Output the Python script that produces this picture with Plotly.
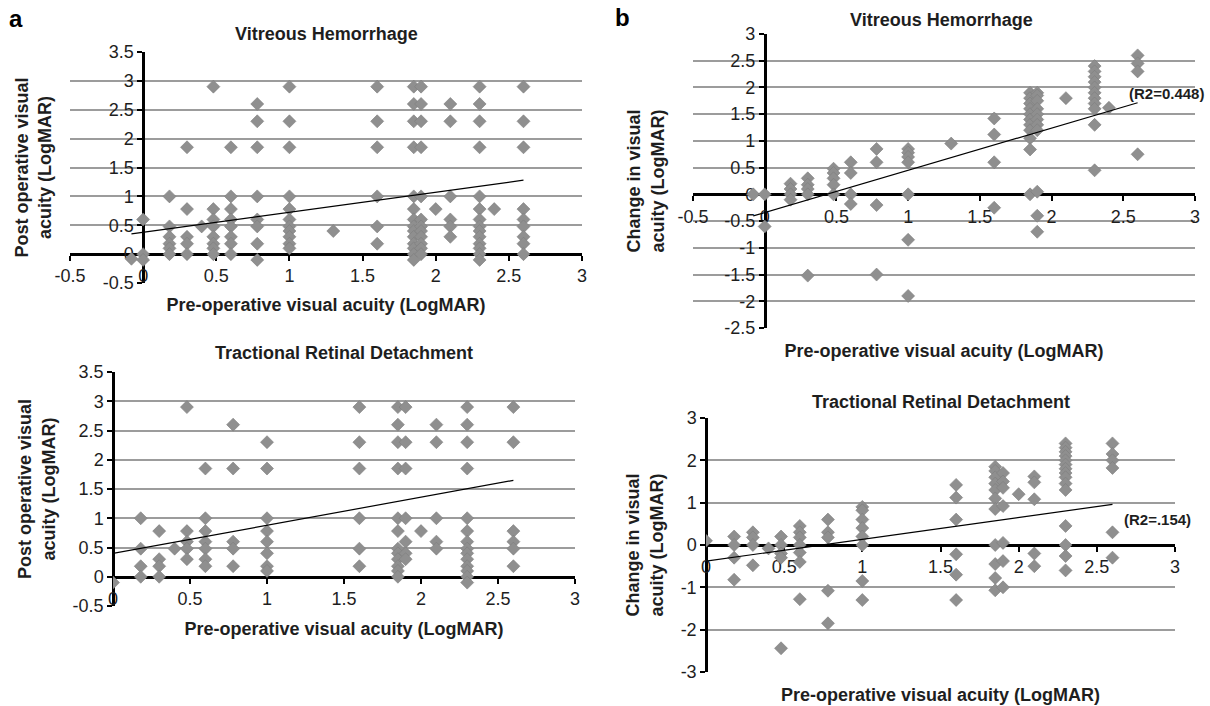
import plotly.graph_objects as go

W, H = 1210, 706

# ---------------- data (LogMAR) ----------------
# (a) upper panel: Vitreous Hemorrhage - post-operative vs pre-operative VA
vh_post_pre_levels = [-0.08, 0, 0.18, 0.3, 0.4, 0.48, 0.6, 0.78, 1.0, 1.3, 1.6,
                      1.85, 1.9, 2.0, 2.1, 2.3, 2.4, 2.6]
vh_post_values = [
    [-0.08],
    [0.6, 0, -0.1],
    [1.0, 0.48, 0.3, 0.18, 0.1, 0],
    [1.85, 0.78, 0.3, 0.18, 0],
    [0.48],
    [2.9, 0.78, 0.6, 0.48, 0.3, 0.18, 0.1, 0],
    [1.85, 1.0, 0.78, 0.6, 0.48, 0.3, 0.18, 0],
    [2.6, 2.3, 1.85, 1.0, 0.6, 0.48, 0.18, -0.1],
    [2.9, 2.3, 1.85, 1.0, 0.78, 0.6, 0.48, 0.4, 0.3, 0.18, 0.1],
    [0.4],
    [2.9, 2.3, 1.85, 1.0, 0.48, 0.18],
    [2.9, 2.6, 2.3, 1.85, 1.0, 0.78, 0.6, 0.48, 0.4, 0.3, 0.18, 0.1, 0, -0.1],
    [2.9, 2.6, 2.3, 1.85, 1.0, 0.6, 0.48, 0.4, 0.3, 0.18, 0.1, 0],
    [0.78],
    [2.6, 2.3, 1.0, 0.6, 0.48, 0.3],
    [2.9, 2.6, 2.3, 1.85, 1.0, 0.78, 0.6, 0.48, 0.4, 0.3, 0.18, 0.1, 0, -0.1],
    [0.78],
    [2.9, 2.3, 1.85, 0.78, 0.6, 0.48, 0.3, 0.18, 0],
]
vh_post_intercept, vh_post_slope = 0.378, 0.347

# (a) lower panel: Tractional Retinal Detachment - post-operative vs pre-operative VA
trd_post_pre_levels = [0, 0.18, 0.3, 0.4, 0.48, 0.6, 0.78, 1.0, 1.6, 1.85, 1.9,
                       2.0, 2.1, 2.3, 2.6]
trd_post_values = [
    [-0.1],
    [1.0, 0.48, 0.18, 0],
    [0.78, 0.3, 0.18, 0],
    [0.48],
    [2.9, 0.78, 0.6, 0.48, 0.3],
    [1.85, 1.0, 0.78, 0.6, 0.48, 0.3, 0.18],
    [2.6, 1.85, 0.6, 0.48, 0.18],
    [2.3, 1.85, 1.0, 0.78, 0.6, 0.4, 0.18, 0.1],
    [2.9, 2.3, 1.85, 1.0, 0.48, 0.18],
    [2.9, 2.6, 2.3, 1.85, 1.0, 0.78, 0.48, 0.4, 0.3, 0.18, 0.1, 0],
    [2.9, 2.3, 1.85, 1.0, 0.6, 0.4, 0.3],
    [0.78],
    [2.6, 2.3, 1.0, 0.6, 0.48],
    [2.9, 2.6, 2.3, 1.85, 1.0, 0.78, 0.6, 0.48, 0.4, 0.3, 0.18, 0.1, 0, -0.1],
    [2.9, 2.3, 0.78, 0.6, 0.48, 0.18],
]
trd_post_intercept, trd_post_slope = 0.40, 0.48

# (b) upper panel: Vitreous Hemorrhage - change in VA vs pre-operative VA
vh_chg_pre_levels = [-0.08, 0, 0.18, 0.3, 0.48, 0.6, 0.78, 1.0, 1.3, 1.6, 1.85,
                     1.9, 2.1, 2.3, 2.4, 2.6]
vh_chg_values = [
    [0],
    [0, -0.6],
    [0.2, 0.1, 0, -0.1],
    [0.3, 0.18, 0.1, 0, -1.52],
    [0.48, 0.4, 0.3, 0.18, 0],
    [0.6, 0.4, 0, -0.18],
    [0.85, 0.6, -0.2, -1.5],
    [0.85, 0.78, 0.7, 0.6, 0, -0.85, -1.9],
    [0.95],
    [1.42, 1.12, 0.6, -0.25],
    [1.9, 1.8, 1.7, 1.6, 1.5, 1.4, 1.3, 1.2, 1.05, 0.84, 0],
    [1.9, 1.85, 1.75, 1.6, 1.5, 1.4, 1.3, 1.2, 0.05, -0.4, -0.7],
    [1.8],
    [2.4, 2.3, 2.2, 2.1, 2.0, 1.9, 1.8, 1.7, 1.6, 1.3, 0.45],
    [1.62],
    [2.6, 2.45, 2.3, 0.75],
]
vh_chg_intercept, vh_chg_slope = -0.34, 0.79
vh_chg_r2_label = "(R2=0.448)"

# (b) lower panel: Tractional Retinal Detachment - change in VA vs pre-operative VA
trd_chg_pre_levels = [0, 0.18, 0.3, 0.4, 0.48, 0.6, 0.78, 1.0, 1.6, 1.85, 1.9,
                      2.0, 2.1, 2.3, 2.6]
trd_chg_values = [
    [0.1],
    [0.2, 0, -0.3, -0.82],
    [0.3, 0.18, 0, -0.48],
    [-0.08],
    [0.2, 0, -0.2, -0.3, -2.44],
    [0.45, 0.3, 0.18, 0, -0.18, -0.4, -1.28],
    [0.6, 0.3, 0.18, -1.08, -1.85],
    [0.9, 0.82, 0.6, 0.4, 0.2, 0, -0.85, -1.3],
    [1.42, 1.12, 0.6, -0.22, -0.7, -1.3],
    [1.85, 1.75, 1.6, 1.45, 1.3, 1.1, 0.85, 0, -0.45, -0.78, -1.07],
    [1.7, 1.5, 1.35, 0.92, 0.05, -0.38, -1.0],
    [1.2],
    [1.62, 1.48, 1.08, -0.2, -0.5],
    [2.4, 2.3, 2.2, 2.1, 2.0, 1.9, 1.8, 1.7, 1.6, 1.45, 1.3, 0.45, 0, -0.26, -0.6],
    [2.4, 2.15, 2.0, 1.82, 0.3, -0.3],
]
trd_chg_intercept, trd_chg_slope = -0.38, 0.515
trd_chg_r2_label = "(R2=.154)"

# tick values / labels
x_ticks_neg = [-0.5, 0, 0.5, 1, 1.5, 2, 2.5, 3]
x_ticks_neg_text = ["-0.5", "0", "0.5", "1", "1.5", "2", "2.5", "3"]
x_ticks_pos = [0, 0.5, 1, 1.5, 2, 2.5, 3]
x_ticks_pos_text = ["0", "0.5", "1", "1.5", "2", "2.5", "3"]
y_ticks_post = [-0.5, 0, 0.5, 1, 1.5, 2, 2.5, 3, 3.5]
y_ticks_post_text = ["-0.5", "0", "0.5", "1", "1.5", "2", "2.5", "3", "3.5"]
y_ticks_vh_chg = [-2.5, -2, -1.5, -1, -0.5, 0, 0.5, 1, 1.5, 2, 2.5, 3]
y_ticks_vh_chg_text = ["-2.5", "-2", "-1.5", "-1", "-0.5", "0", "0.5", "1",
                       "1.5", "2", "2.5", "3"]
y_ticks_trd_chg = [-3, -2, -1, 0, 1, 2, 3]
y_ticks_trd_chg_text = ["-3", "-2", "-1", "0", "1", "2", "3"]

titles = ["Vitreous Hemorrhage", "Tractional Retinal Detachment",
          "Vitreous Hemorrhage", "Tractional Retinal Detachment"]
x_title = "Pre-operative visual acuity (LogMAR)"
y_title_post = "Post operative visual<br>acuity (LogMAR)"
y_title_chg = "Change in visual<br>acuity (LogMAR)"

# ---------------- styling ----------------
FONT = "Arial, 'Liberation Sans', Helvetica, sans-serif"
MARKER = dict(symbol="diamond", size=10, color="#8f8f8f",
              line=dict(color="#7e7e7e", width=0.6))
GRID = "#9c9c9c"
TXT = "#1e1e1e"
TICK_FS = 18
TITLE_FS = 18
AXTITLE_FS = 18


def flatten(levels, groups):
    xs, ys = [], []
    for xv, g in zip(levels, groups):
        for yv in g:
            xs.append(xv)
            ys.append(yv)
    return xs, ys


def frac_x(p):
    return p / W


def frac_y(p):
    return 1 - p / H


def zero_pos(domain, rng):
    return domain[0] + (0 - rng[0]) / (rng[1] - rng[0]) * (domain[1] - domain[0])


panels = [
    dict(levels=vh_post_pre_levels, values=vh_post_values,
         icpt=vh_post_intercept, slope=vh_post_slope,
         xpx=(70, 582), ypx=(52, 283), xr=[-0.5, 3], yr=[-0.5, 3.5],
         xt=x_ticks_neg, xtt=x_ticks_neg_text, yt=y_ticks_post, ytt=y_ticks_post_text,
         ytitle=y_title_post, ystand=45, xstand=12, title=titles[0], tpx=(326, 34)),
    dict(levels=trd_post_pre_levels, values=trd_post_values,
         icpt=trd_post_intercept, slope=trd_post_slope,
         xpx=(113, 575), ypx=(372, 606), xr=[0, 3], yr=[-0.5, 3.5],
         xt=x_ticks_pos, xtt=x_ticks_pos_text, yt=y_ticks_post, ytt=y_ticks_post_text,
         ytitle=y_title_post, ystand=11, xstand=14, title=titles[1], tpx=(344, 353)),
    dict(levels=vh_chg_pre_levels, values=vh_chg_values,
         icpt=vh_chg_intercept, slope=vh_chg_slope,
         xpx=(693, 1195), ypx=(34, 328), xr=[-0.5, 3], yr=[-2.5, 3],
         xt=x_ticks_neg, xtt=x_ticks_neg_text, yt=y_ticks_vh_chg, ytt=y_ticks_vh_chg_text,
         ytitle=y_title_chg, ystand=54, xstand=118, title=titles[2], tpx=(941, 20),
         r2=vh_chg_r2_label, r2pos=(2.80, 1.89)),
    dict(levels=trd_chg_pre_levels, values=trd_chg_values,
         icpt=trd_chg_intercept, slope=trd_chg_slope,
         xpx=(706, 1175), ypx=(418, 672), xr=[0, 3], yr=[-3, 3],
         xt=x_ticks_pos, xtt=x_ticks_pos_text, yt=y_ticks_trd_chg, ytt=y_ticks_trd_chg_text,
         ytitle=y_title_chg, ystand=11, xstand=112, title=titles[3], tpx=(941, 402),
         r2=trd_chg_r2_label, r2pos=(2.89, 0.61)),
]

fig = go.Figure()
layout = dict(
    width=W, height=H, margin=dict(l=0, r=0, t=0, b=0, pad=0, autoexpand=False),
    paper_bgcolor="white", plot_bgcolor="white", showlegend=False,
    font=dict(family=FONT, color=TXT, size=14),
)
annotations = []

for i, p in enumerate(panels, start=1):
    xs, ys = flatten(p["levels"], p["values"])
    xid = "x" if i == 1 else f"x{i}"
    yid = "y" if i == 1 else f"y{i}"
    xname = "xaxis" if i == 1 else f"xaxis{i}"
    yname = "yaxis" if i == 1 else f"yaxis{i}"

    fig.add_trace(go.Scatter(x=xs, y=ys, mode="markers", marker=MARKER,
                             xaxis=xid, yaxis=yid, hoverinfo="x+y"))
    x0, x1 = min(xs), max(xs)
    fig.add_trace(go.Scatter(x=[x0, x1],
                             y=[p["icpt"] + p["slope"] * x0, p["icpt"] + p["slope"] * x1],
                             mode="lines", line=dict(color="black", width=1.2),
                             xaxis=xid, yaxis=yid, hoverinfo="skip"))

    xdom = [frac_x(p["xpx"][0]), frac_x(p["xpx"][1])]
    ydom = [frac_y(p["ypx"][1]), frac_y(p["ypx"][0])]

    layout[xname] = dict(
        domain=xdom, range=p["xr"], anchor="free", automargin=False,
        position=zero_pos(ydom, p["yr"]),
        tickvals=p["xt"], ticktext=p["xtt"],
        showgrid=False, zeroline=False,
        showline=True, linecolor="black", linewidth=2.5,
        ticks="outside", ticklen=5, tickwidth=2, tickcolor="black",
        tickfont=dict(size=TICK_FS, color=TXT), layer="below traces",
        title=dict(text=x_title, standoff=p["xstand"],
                   font=dict(size=AXTITLE_FS, color=TXT, weight="bold")),
        fixedrange=True,
    )
    layout[yname] = dict(
        domain=ydom, range=p["yr"], anchor="free", automargin=False,
        position=zero_pos(xdom, p["xr"]),
        tickvals=p["yt"], ticktext=p["ytt"],
        showgrid=True, gridcolor=GRID, gridwidth=1.6, zeroline=False,
        showline=True, linecolor="black", linewidth=2.5,
        ticks="outside", ticklen=5, tickwidth=2, tickcolor="black",
        tickfont=dict(size=TICK_FS, color=TXT), layer="below traces",
        title=dict(text=p["ytitle"], standoff=p["ystand"],
                   font=dict(size=AXTITLE_FS, color=TXT, weight="bold")),
        fixedrange=True,
    )

    annotations.append(dict(text=p["title"], xref="paper", yref="paper",
                            x=frac_x(p["tpx"][0]), y=frac_y(p["tpx"][1]),
                            xanchor="center", yanchor="middle", showarrow=False,
                            font=dict(size=TITLE_FS, color=TXT, weight="bold")))
    if "r2" in p:
        annotations.append(dict(text=p["r2"], xref=xid, yref=yid,
                                x=p["r2pos"][0], y=p["r2pos"][1],
                                xanchor="center", yanchor="middle", showarrow=False,
                                font=dict(size=15, color=TXT, weight="bold")))

annotations.append(dict(text="a", xref="paper", yref="paper",
                        x=frac_x(16), y=frac_y(18), xanchor="center", yanchor="middle",
                        showarrow=False, font=dict(size=24, color="black", weight="bold")))
annotations.append(dict(text="b", xref="paper", yref="paper",
                        x=frac_x(622), y=frac_y(17), xanchor="center", yanchor="middle",
                        showarrow=False, font=dict(size=24, color="black", weight="bold")))

layout["annotations"] = annotations
fig.update_layout(**layout)
# remove the default page margin so the 1210x706 figure fills the window exactly
fig.write_html("out.html",
               config={"displayModeBar": False},
               post_script="document.body.style.margin='0px';"
                           "document.body.style.overflow='hidden';")
